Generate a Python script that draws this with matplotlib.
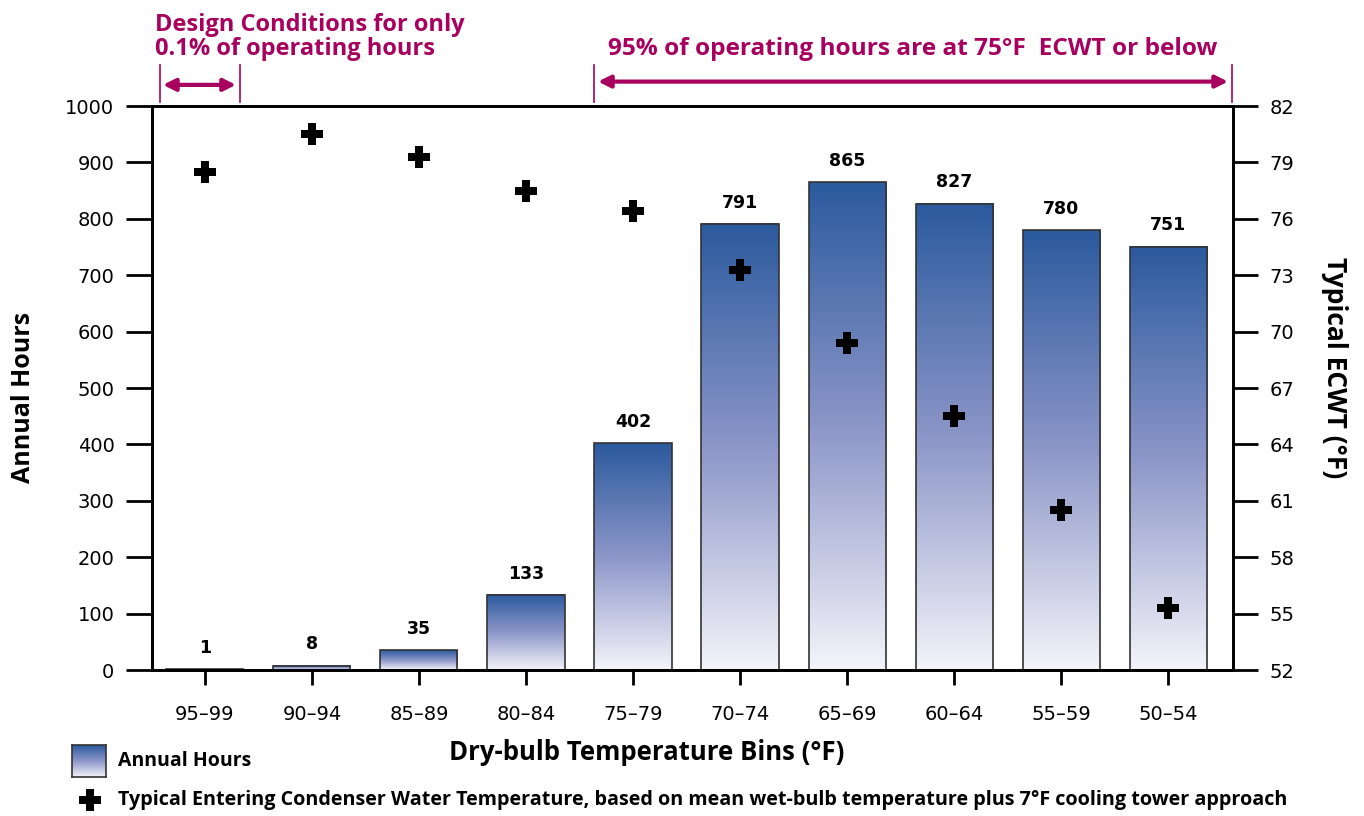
import numpy as np
import matplotlib
matplotlib.use('Agg')
import matplotlib.pyplot as plt
from matplotlib.colors import LinearSegmentedColormap
from matplotlib.patches import Rectangle
from matplotlib.path import Path
import matplotlib.transforms as mtransforms

bins = ['95\u201399', '90\u201394', '85\u201389', '80\u201384', '75\u201379',
        '70\u201374', '65\u201369', '60\u201364', '55\u201359', '50\u201354']
hours = [1, 8, 35, 133, 402, 791, 865, 827, 780, 751]
ecwt = [78.5, 80.5, 79.3, 77.5, 76.4, 73.3, 69.4, 65.5, 60.5, 55.3]

magenta = '#A8005E'
bold_font = ['Open Sans', 'DejaVu Sans']
cmap = LinearSegmentedColormap.from_list('bars', ['#F4F4FA', '#8C96C8', '#2B5A9E'])
grad = np.linspace(0, 1, 256).reshape(-1, 1)

# plus marker with thinner arms than 'P'
a, b = 0.5, 0.16
plus = Path([(-b, a), (b, a), (b, b), (a, b), (a, -b), (b, -b), (b, -a), (-b, -a),
             (-b, -b), (-a, -b), (-a, b), (-b, b), (-b, a)], closed=True)

fig = plt.figure(figsize=(13.64, 8.16), dpi=100)
ax = fig.add_axes([0.1114, 0.1789, 0.7926, 0.6911])
ax2 = ax.twinx()

x = np.arange(len(bins))
w = 0.72
for xi, h in zip(x, hours):
    ax.imshow(grad, extent=[xi - w/2, xi + w/2, 0, h], origin='lower',
              cmap=cmap, aspect='auto', zorder=1)
    ax.add_patch(Rectangle((xi - w/2, 0), w, h, facecolor='none',
                           edgecolor='#333333', lw=1.2, zorder=2))
    ax.text(xi, h + 22, str(h), ha='center', va='bottom', fontsize=12.5,
            fontweight='bold', family='DejaVu Sans')

ax.set_xlim(-0.495, 9.607)
ax.set_ylim(0, 1000)
ax.set_yticks(range(0, 1001, 100))
ax.set_xticks(x)
ax.set_xticklabels(bins)

ax2.plot(x, ecwt, linestyle='none', marker=plus, markersize=16.5,
         color='black', markeredgewidth=0, zorder=5)
ax2.set_ylim(52, 82)
ax2.set_yticks(range(52, 83, 3))

for axis in (ax, ax2):
    for s in axis.spines.values():
        s.set_linewidth(2)
ax.tick_params(axis='y', length=19, width=2, labelsize=14, pad=8)
ax.tick_params(axis='x', length=11, width=2, labelsize=14, pad=14)
ax2.tick_params(axis='y', length=18, width=2, labelsize=14, pad=8)

ax.set_ylabel('Annual Hours', fontsize=18, fontweight='bold', family=bold_font,
              va='center')
ax.yaxis.set_label_coords(-0.119, 0.484)
ax2.set_ylabel('Typical ECWT (\u00b0F)', fontsize=19, fontweight='bold', family=bold_font,
               rotation=-90, va='center')
ax2.yaxis.set_label_coords(1.094, 0.537)

fig.text(0.474, 0.078, 'Dry-bulb Temperature Bins (\u00b0F)', ha='center', va='center',
         fontsize=18.5, fontweight='bold', family=bold_font)

# annotations above plot
trans = mtransforms.blended_transform_factory(ax.transData, fig.transFigure)
for xv in (-0.420, 0.327, 3.636, 9.597):
    ax.add_line(plt.Line2D([xv, xv], [0.875, 0.920], transform=trans, color=magenta,
                           lw=1.2, clip_on=False))
ax.annotate('', xy=(-0.392, 0.896), xytext=(0.290, 0.896), xycoords=trans, textcoords=trans,
            arrowprops=dict(arrowstyle='<|-|>', color=magenta, lw=3, mutation_scale=18,
                            shrinkA=0, shrinkB=0))
ax.annotate('', xy=(3.673, 0.900), xytext=(9.56, 0.900), xycoords=trans, textcoords=trans,
            arrowprops=dict(arrowstyle='<|-|>', color=magenta, lw=3, mutation_scale=18,
                            shrinkA=0, shrinkB=0))
fig.text(0.114, 0.925, 'Design Conditions for only\n0.1% of operating hours', ha='left',
         va='bottom', fontsize=17, fontweight='bold', color=magenta, family=bold_font,
         linespacing=1.0)
fig.text(0.669, 0.940, '95% of operating hours are at 75\u00b0F  ECWT or below', ha='center',
         va='center', fontsize=17.6, fontweight='bold', color=magenta, family=bold_font)

# legend
lax = fig.add_axes([72/1364, 1 - 777/816, 34/1364, 32/816])
lax.imshow(grad, cmap=cmap, origin='lower', aspect='auto')
lax.set_xticks([])
lax.set_yticks([])
for s in lax.spines.values():
    s.set_linewidth(1.2)
    s.set_color('#333333')
fig.text(118/1364, 1 - 761/816, 'Annual Hours', ha='left', va='center', fontsize=14,
         fontweight='bold', family=bold_font)
fig.lines.append(plt.Line2D([90/1364], [1 - 800/816], marker=plus, markersize=16.5,
                            markeredgewidth=0, color='black', transform=fig.transFigure))
fig.text(118/1364, 1 - 800/816,
         'Typical Entering Condenser Water Temperature, based on mean wet-bulb temperature plus 7\u00b0F cooling tower approach',
         ha='left', va='center', fontsize=14.2, fontweight='bold', family=bold_font)

fig.savefig('out.png', dpi=100)
